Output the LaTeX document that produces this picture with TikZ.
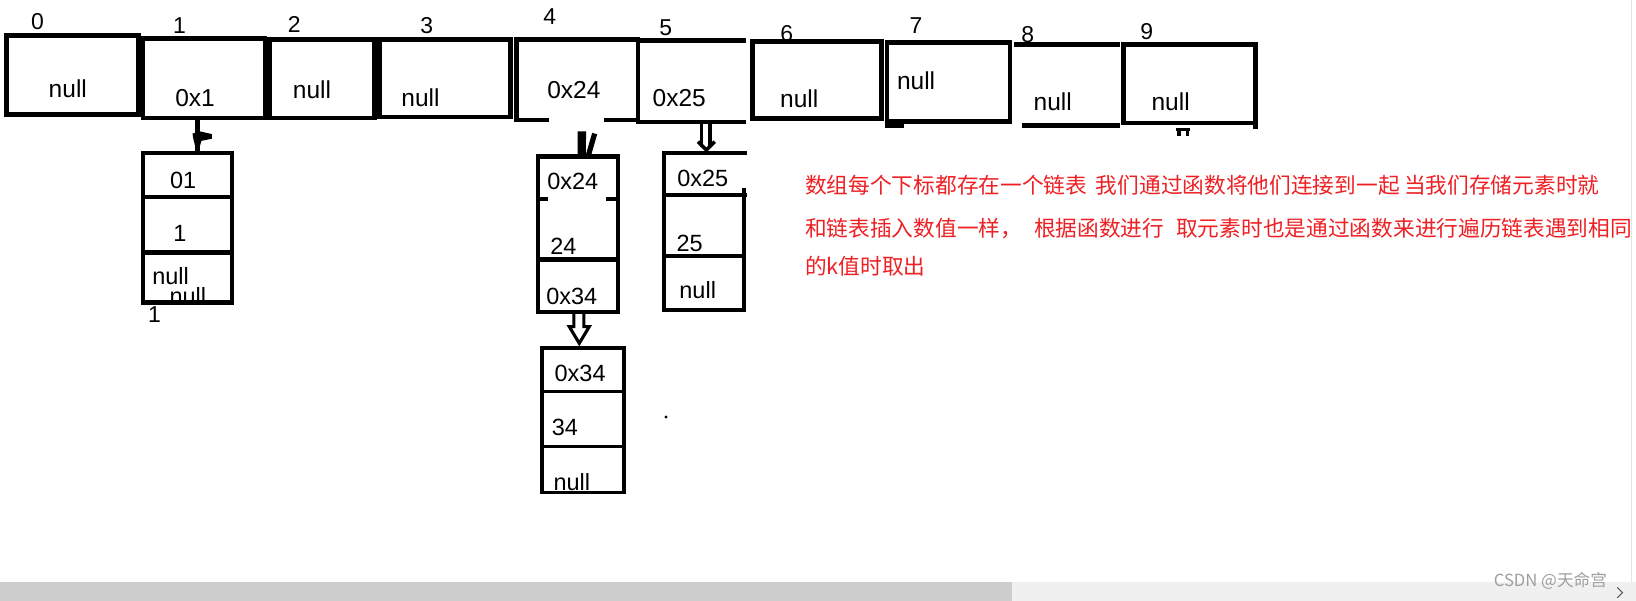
\documentclass[tikz,border=0pt]{standalone}
\usepackage{fontspec}
\setmainfont{Liberation Sans}
\newfontfamily\cjkfont{Noto Sans CJK SC}
\usetikzlibrary{calc}
\definecolor{redtxt}{RGB}{238,32,36}
\definecolor{barA}{RGB}{205,205,205}
\definecolor{barB}{RGB}{240,240,240}
\begin{document}
\begin{tikzpicture}[x=1pt,y=-1pt,
  slot/.style={inner sep=0pt,outer sep=0pt},
  abox/.style={slot,draw,line width=4.5pt},
  aline/.style={line width=4.5pt},
  lbox/.style={slot,draw,line width=4pt},
  lline/.style={line width=4pt},
  sbox/.style={slot,draw,line width=3.3pt},
  sline/.style={line width=3.3pt},
  atxt/.style={inner sep=0pt,font=\fontsize{23.5}{28}\selectfont},
  ltxt/.style={inner sep=0pt,font=\fontsize{22.5}{27}\selectfont},
  itxt/.style={inner sep=0pt,font=\fontsize{22}{26}\selectfont},
  rtxt/.style={inner sep=0pt,anchor=west,text=redtxt,font=\cjkfont\fontsize{20.8}{25}\selectfont},
]
\fill[white] (0,0) rectangle (1568,576);
\useasboundingbox (0,0) rectangle (1568,576);

% ---------- array slots ----------
\node[abox,minimum width=127pt,minimum height=76pt] (b0) at (69.5,72) {};
\node[abox,minimum width=117pt,minimum height=76pt] (b1) at (195.5,75) {};
\node[abox,minimum width=101pt,minimum height=75pt] (b2) at (308.5,75.5) {};
\node[abox,minimum width=125pt,minimum height=74pt] (b3) at (426.5,75) {};
\node[slot,minimum width=116.5pt,minimum height=77pt] (b4) at (553.25,76.5) {};
\node[slot,minimum width=103.5pt,minimum height=78pt] (b5) at (663.25,78) {};
\node[abox,minimum width=123.6pt,minimum height=73.5pt] (b6) at (782.8,76.75) {};
\node[abox,minimum width=118pt,minimum height=75.6pt] (b7) at (909,78.8) {};
\node[slot,minimum width=101pt,minimum height=77.5pt] (b8) at (1022.5,81.25) {};
\node[abox,minimum width=126pt,minimum height=75.5pt] (b9) at (1140,80.25) {};

% partial outlines
\draw[aline] ($(b4.south west)+(31,0)$) -- (b4.south west) -- (b4.north west)
  -- (b4.north east) -- (b4.south east) -- ($(b4.south east)+(-32.5,0)$);
\draw[aline] (b5.north east) -- (b5.north west) -- (b5.south west) -- (b5.south east);
\draw[aline] ($(b7.south west)+(-2,4)$) -- ++(18,0);
\draw[aline] (b8.north west) -- (b8.north east);
\draw[aline] ($(b8.south west)+(7.5,0)$) -- (b8.south east);
\draw[aline] (b9.south east) -- ++(0,6);
\draw[line width=3pt] (1127,124) -- (1141,124) (1130,124) -- (1130,130) (1138,124) -- (1138,130);

% slot contents
\node[atxt] (t0) at (65,85) {null};
\node[atxt] (t1) at (187,94) {0x1};
\node[atxt] (t2) at (299,86) {null};
\node[atxt] (t3) at (403,94) {null};
\node[atxt] (t4) at (550,86) {0x24};
\node[atxt] (t5) at (651,94) {0x25};
\node[atxt] (t6) at (766,95) {null};
\node[atxt] (t7) at (878,77) {null};
\node[atxt] (t8) at (1009,97.5) {null};
\node[atxt] (t9) at (1122,97.5) {null};

% indices
\node[itxt] (i0) at (36,21) {0};
\node[itxt] (i1) at (172,25) {1};
\node[itxt] (i2) at (282,23) {2};
\node[itxt] (i3) at (409,25) {3};
\node[itxt] (i4) at (527,16) {4};
\node[itxt] (i5) at (638,27) {5};
\node[itxt] (i6) at (754,32) {6};
\node[itxt] (i7) at (878,25) {7};
\node[itxt] (i8) at (985,33) {8};
\node[itxt] (i9) at (1099,30) {9};

% ---------- list under slot 1 ----------
\node[lbox,minimum width=84.6pt,minimum height=143pt] (l1) at (179.7,218.5) {};
\draw[lline] ($(l1.north west)+(0,42)$) -- ($(l1.north east)+(0,42)$);
\draw[lline] ($(l1.north west)+(0,95)$) -- ($(l1.north east)+(0,95)$);
\node[ltxt] (l1a) at (175.6,172.5) {01};
\node[ltxt] (l1b) at (172.5,223.5) {1};
\node[ltxt] (l1c) at (163.5,265) {null};
\begin{scope}
  \clip (l1.north west) rectangle ($(l1.south east)+(0,-2)$);
  \node[ltxt] (l1d) at (180,284) {null};
\end{scope}
\node[itxt] (l1e) at (148,302) {1};

\draw[line width=4.5pt] ($(b1.south)+(-6,0)$) -- ($(l1.north)+(9.8,0)$);
\fill ($(l1.north)+(4.8,-19)$) -- ++(7.5,-2) -- ++(11,2.5) -- ++(0,4.5) -- ++(-10,2)
  -- ++(-3,11) -- ++(-1.5,0) -- ++(-3,-12) -- cycle;

% ---------- list under slot 4 ----------
\node[lbox,minimum width=76.8pt,minimum height=148.7pt] (l4) at (554.1,224.35) {};
\draw[lline] ($(l4.north west)+(0,40.7)$) -- ++(9.3,0);
\draw[lline] ($(l4.north east)+(-11.5,40.7)$) -- ++(13,0);
\draw[lline] ($(l4.north west)+(0,98.65)$) -- ($(l4.north east)+(0,98.65)$);
\node[ltxt] (l4a) at (549,174) {0x24};
\node[ltxt] (l4b) at (540,236) {24};
\node[ltxt] (l4c) at (548,284) {0x34};

\draw[line width=8pt] ($(b4.south)+(4.4,11)$) -- ($(l4.north)+(3.5,0)$);
\draw[line width=5pt] ($(b4.south)+(16.7,13)$) -- ($(l4.north)+(9.5,0)$);

% ---------- list under slot 5 ----------
\node[slot,minimum width=76.6pt,minimum height=150.2pt] (l5) at (674.7,221.9) {};
\draw[lline] ($(l5.north east)+(3,0)$) -- (l5.north west) -- (l5.south west)
  -- (l5.south east) -- ($(l5.north east)+(0,33.2)$);
\draw[lline] ($(l5.north west)+(0,40.2)$) -- ($(l5.north east)+(3,40.2)$);
\draw[lline] ($(l5.north west)+(0,98.6)$) -- ($(l5.north east)+(0,98.6)$);
\node[ltxt] (l5a) at (673.5,171) {0x25};
\node[ltxt] (l5b) at (661,233) {25};
\node[ltxt] (l5c) at (668.7,278) {null};

\draw[line width=3.3pt] ($(b5.south)+(9.25,0)$) -- ($(l5.north)+(-2.2,-5.8)$);
\draw[line width=3.3pt] ($(b5.south)+(17.25,0)$) -- ($(l5.north)+(5.8,-5.8)$);
\draw[line width=3.3pt] ($(l5.north)+(-5.7,-11)$) -- ($(l5.north)+(2.3,-3)$) -- ($(l5.north)+(10.3,-11)$);

% ---------- list under 0x34 ----------
\node[sbox,minimum width=78.4pt,minimum height=138.4pt] (l34) at (558.8,402.8) {};
\draw[sline] ($(l34.north west)+(0,41.8)$) -- ($(l34.north east)+(0,41.8)$);
\draw[sline] ($(l34.north west)+(0,94.4)$) -- ($(l34.north east)+(0,94.4)$);
\node[ltxt] (l34a) at (556,357.6) {0x34};
\node[ltxt] (l34b) at (541.5,410) {34};
\node[ltxt] (l34c) at (548,461.6) {null};

\draw[line width=3pt,line join=miter] ($(l4.south)+(-4.1,1)$) -- ++(0,13.3) -- ++(-4.4,0)
  -- ++(9.6,16) -- ++(9.6,-16) -- ++(-5.2,0) -- ++(0,-13.3);

\fill (638.3,399.7) circle (1.6pt);

% ---------- red note ----------
\node[rtxt] (r1) at (771.5,177.5) {数组每个下标都存在一个链表\hspace{0.4em}我们通过函数将他们连接到一起\hspace{0.2em}当我们存储元素时就};
\node[rtxt] (r2) at (771.5,218.8) {和链表插入数值一样，\hspace{0.55em}根据函数进行\hspace{0.55em}取元素时也是通过函数来进行遍历链表遇到相同};
\node[rtxt] (r3) at (771.5,255.6) {的k值时取出};

% ---------- bottom bar ----------
\fill[barA] (0,557.5) rectangle (970,576);
\fill[barB] (970,557.5) rectangle (1568,576);
\draw[gray!20,line width=0.8pt] (1564,0) -- (1564,557.5);
\node[inner sep=0pt,text=gray!75,font=\cjkfont\fontsize{16}{18}\selectfont] (wm) at (1486,557) {CSDN @天命宫};
\draw[line width=1pt,gray!70!black] (1550,563) -- (1555,568) -- (1550,573);
\end{tikzpicture}
\end{document}
